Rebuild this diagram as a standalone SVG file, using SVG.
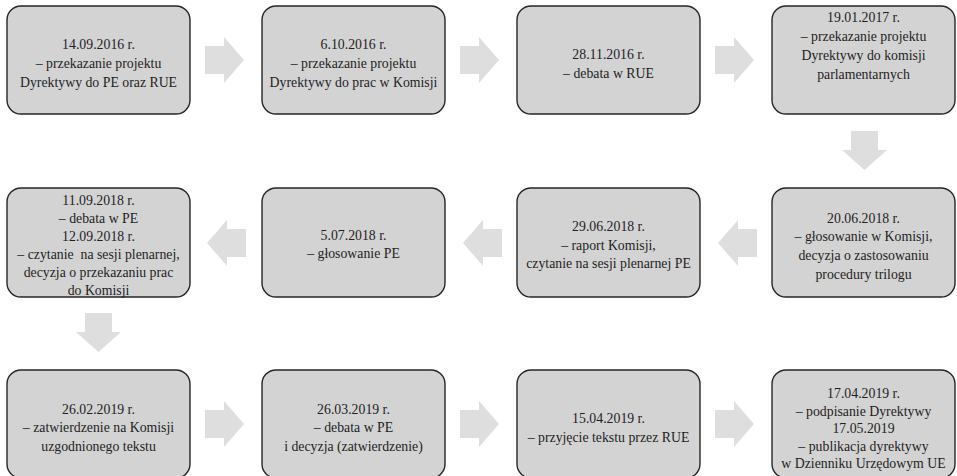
<svg xmlns="http://www.w3.org/2000/svg" width="957" height="476" viewBox="0 0 957 476">
<style>
.box{fill:#d3d3d3;stroke:#262626;stroke-width:1.4}
.arr{fill:#dedede;stroke:none}
.t text{font-size:15px;fill:#1e1e1e;text-anchor:middle}
</style>
<rect width="957" height="476" fill="#ffffff"/>
<g id="connectors">
<path class="arr" d="M205,46 h19 v-9 l20,23 l-20,23 v-9 h-19 z"/>
<path class="arr" d="M460,46 h19 v-9 l20,23 l-20,23 v-9 h-19 z"/>
<path class="arr" d="M715,46 h19 v-9 l20,23 l-20,23 v-9 h-19 z"/>
<path class="arr" d="M851,131 v19 h-9 l22.5,20 l22.5,-20 h-9 v-19 z"/>
<path class="arr" d="M757,229 h-19 v-9 l-20,23 l20,23 v-9 h19 z"/>
<path class="arr" d="M502,229 h-19 v-9 l-20,23 l20,23 v-9 h19 z"/>
<path class="arr" d="M246,229 h-19 v-9 l-20,23 l20,23 v-9 h19 z"/>
<path class="arr" d="M85,313 v19 h-9 l22.5,20 l22.5,-20 h-9 v-19 z"/>
<path class="arr" d="M205,410 h19 v-9 l20,23 l-20,23 v-9 h-19 z"/>
<path class="arr" d="M460,410 h19 v-9 l20,23 l-20,23 v-9 h-19 z"/>
<path class="arr" d="M715,410 h19 v-9 l20,23 l-20,23 v-9 h-19 z"/>
</g>
<g class="t" font-family="'Liberation Serif', 'Times New Roman', Times, serif">
<g id="n1"><rect class="box" x="7" y="6" width="183" height="108" rx="14"/>
<g transform="translate(98.5,0) scale(0.92,1)"><text x="0" y="49.5">14.09.2016 r.</text><text x="0" y="68.5">– przekazanie projektu</text><text x="0" y="87.5">Dyrektywy do PE oraz RUE</text></g></g>
<g id="n2"><rect class="box" x="262" y="6" width="183" height="108" rx="14"/>
<g transform="translate(353.5,0) scale(0.92,1)"><text x="0" y="49.5">6.10.2016 r.</text><text x="0" y="68.5">– przekazanie projektu</text><text x="0" y="87.5">Dyrektywy do prac w Komisji</text></g></g>
<g id="n3"><rect class="box" x="517" y="6" width="183" height="108" rx="14"/>
<g transform="translate(608.5,0) scale(0.92,1)"><text x="0" y="59">28.11.2016 r.</text><text x="0" y="78">– debata w RUE</text></g></g>
<g id="n4"><rect class="box" x="772" y="6" width="183" height="108" rx="14"/>
<g transform="translate(863.5,0) scale(0.92,1)"><text x="0" y="22">19.01.2017 r.</text><text x="0" y="41">– przekazanie projektu</text><text x="0" y="60">Dyrektywy do komisji</text><text x="0" y="79">parlamentarnych</text></g></g>
<g id="n5"><rect class="box" x="772" y="188" width="183" height="109" rx="14"/>
<g transform="translate(863.5,0) scale(0.92,1)"><text x="0" y="223">20.06.2018 r.</text><text x="0" y="241.5">– głosowanie w Komisji,</text><text x="0" y="260">decyzja o zastosowaniu</text><text x="0" y="279">procedury trilogu</text></g></g>
<g id="n6"><rect class="box" x="517" y="188" width="183" height="109" rx="14"/>
<g transform="translate(608.5,0) scale(0.92,1)"><text x="0" y="231.5">29.06.2018 r.</text><text x="0" y="250">– raport Komisji,</text><text x="0" y="268.5">czytanie na sesji plenarnej PE</text></g></g>
<g id="n7"><rect class="box" x="262" y="188" width="183" height="109" rx="14"/>
<g transform="translate(353.5,0) scale(0.92,1)"><text x="0" y="240">5.07.2018 r.</text><text x="0" y="258.5">– głosowanie PE</text></g></g>
<g id="n8"><rect class="box" x="7" y="188" width="183" height="109" rx="14"/>
<g transform="translate(98.5,0) scale(0.92,1)"><text x="0" y="205">11.09.2018 r.</text><text x="0" y="223">– debata w PE</text><text x="0" y="241">12.09.2018 r.</text><text x="0" y="259" xml:space="preserve">– czytanie  na sesji plenarnej,</text><text x="0" y="277">decyzja o przekazaniu prac</text><text x="0" y="295">do Komisji</text></g></g>
<g id="n9"><rect class="box" x="7" y="370" width="183" height="108" rx="14"/>
<g transform="translate(98.5,0) scale(0.92,1)"><text x="0" y="414">26.02.2019 r.</text><text x="0" y="432.5">– zatwierdzenie na Komisji</text><text x="0" y="451">uzgodnionego tekstu</text></g></g>
<g id="n10"><rect class="box" x="262" y="370" width="183" height="108" rx="14"/>
<g transform="translate(353.5,0) scale(0.92,1)"><text x="0" y="414">26.03.2019 r.</text><text x="0" y="432.5">– debata w PE</text><text x="0" y="451">i decyzja (zatwierdzenie)</text></g></g>
<g id="n11"><rect class="box" x="517" y="370" width="183" height="108" rx="14"/>
<g transform="translate(608.5,0) scale(0.92,1)"><text x="0" y="423">15.04.2019 r.</text><text x="0" y="442">– przyjęcie tekstu przez RUE</text></g></g>
<g id="n12"><rect class="box" x="772" y="370" width="183" height="108" rx="14"/>
<g transform="translate(863.5,0) scale(0.92,1)"><text x="0" y="398">17.04.2019 r.</text><text x="0" y="416">– podpisanie Dyrektywy</text><text x="0" y="433.5">17.05.2019</text><text x="0" y="451">– publikacja dyrektywy</text><text x="0" y="468">w Dzienniku Urzędowym UE</text></g></g>
</g>
</svg>
